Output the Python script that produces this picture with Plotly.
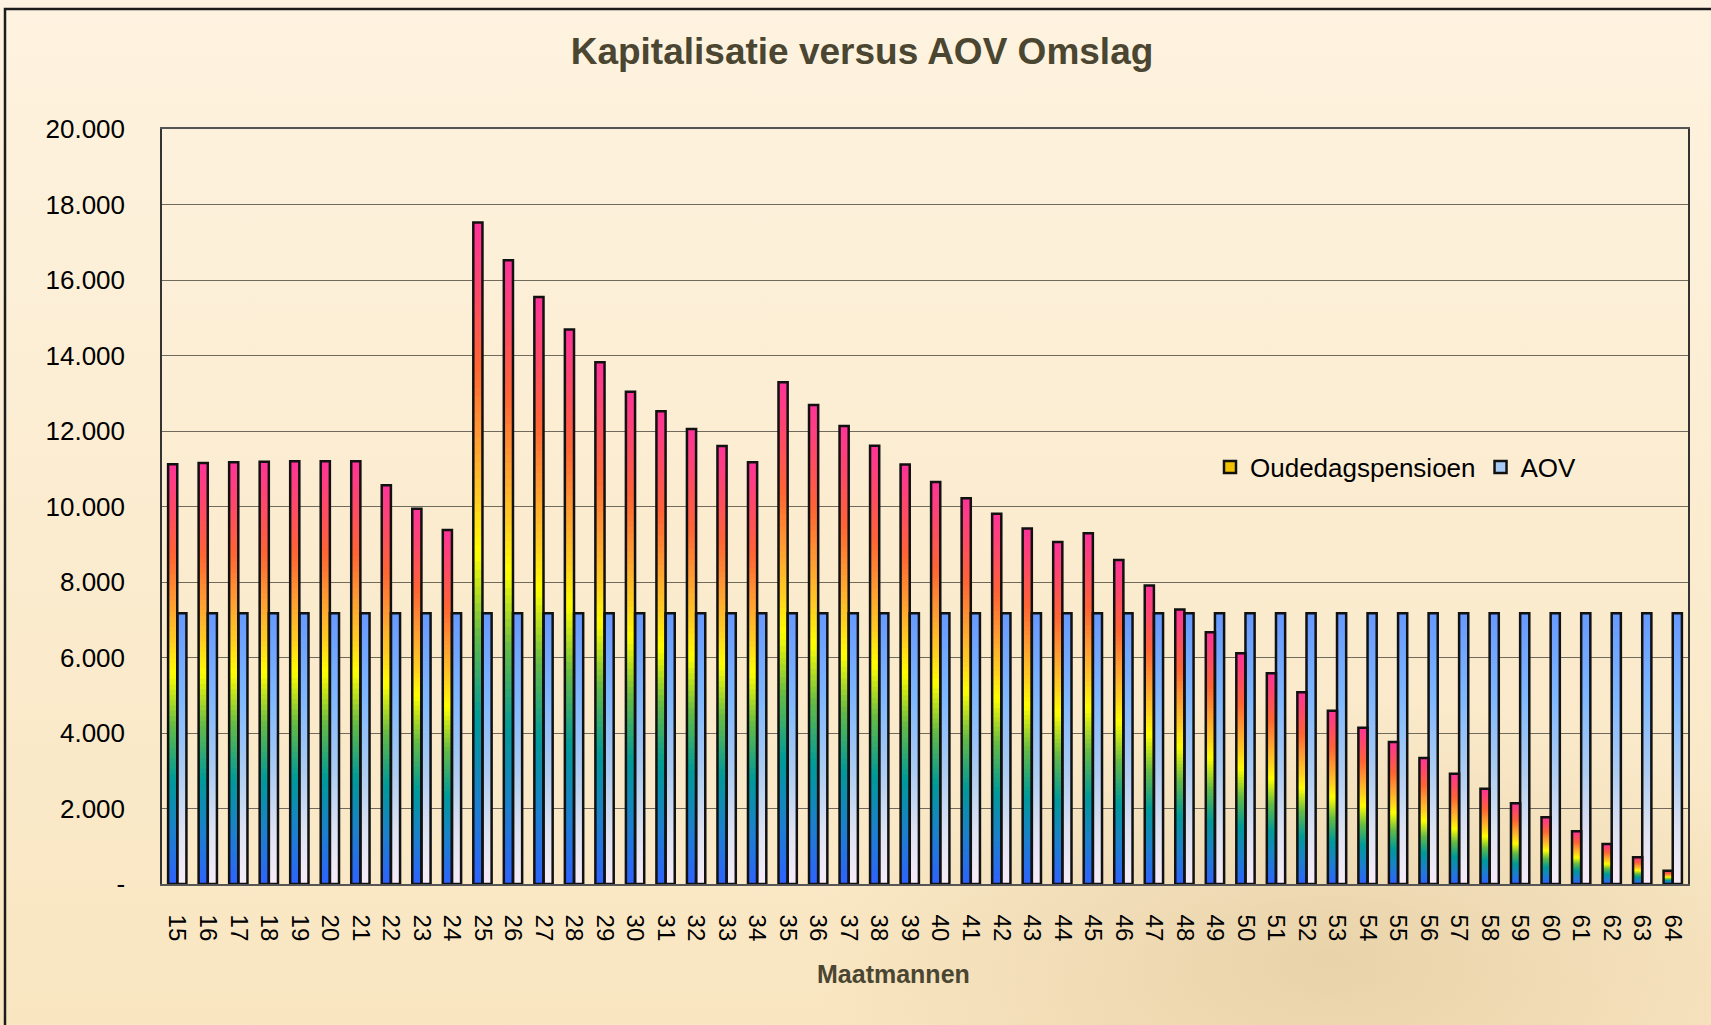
import base64
import plotly.graph_objects as go

# ---------------- data ----------------
ages = [15, 16, 17, 18, 19, 20, 21, 22, 23, 24,
        25, 26, 27, 28, 29, 30, 31, 32, 33, 34,
        35, 36, 37, 38, 39, 40, 41, 42, 43, 44,
        45, 46, 47, 48, 49, 50, 51, 52, 53, 54,
        55, 56, 57, 58, 59, 60, 61, 62, 63, 64]
age_labels = [str(a) for a in ages]

oudedagspensioen = [11120, 11150, 11175, 11185, 11200, 11200, 11200, 10565, 9940, 9375,
                    17520, 16520, 15550, 14690, 13820, 13040, 12520, 12050, 11600, 11170,
                    13290, 12690, 12130, 11610, 11110, 10650, 10220, 9810, 9420, 9060,
                    9290, 8580, 7910, 7270, 6670, 6110, 5580, 5080, 4590, 4140,
                    3760, 3340, 2920, 2520, 2140, 1770, 1400, 1060, 710, 350]

aov = [7170, 7170, 7170, 7170, 7170, 7170, 7170, 7170, 7170, 7170,
       7170, 7170, 7170, 7170, 7170, 7170, 7170, 7170, 7170, 7170,
       7170, 7170, 7170, 7170, 7170, 7170, 7170, 7170, 7170, 7170,
       7170, 7170, 7170, 7170, 7170, 7170, 7170, 7170, 7170, 7170,
       7170, 7170, 7170, 7170, 7170, 7170, 7170, 7170, 7170, 7170]

y_tickvals = [0, 2000, 4000, 6000, 8000, 10000, 12000, 14000, 16000, 18000, 20000]
y_ticktext = ["-", "2.000", "4.000", "6.000", "8.000", "10.000",
              "12.000", "14.000", "16.000", "18.000", "20.000"]

series_names = ["Oudedagspensioen", "AOV"]

# ---------------- style ----------------
W, H = 1711, 1025
M_L, M_R, M_T, M_B = 162, 23, 129, 141
PW = W - M_L - M_R
PH = H - M_T - M_B
FONT = "Liberation Sans, Arial, sans-serif"
DARK = "#4a4631"

# gradient stops (fraction of bar height from bottom -> colour)
rainbow_stops = [(0.00, "#2f62ff"), (0.12, "#1c7fcf"), (0.25, "#009a98"),
                 (0.38, "#66bb44"), (0.50, "#ffff00"), (0.58, "#ffcc22"),
                 (0.68, "#ff9933"), (0.78, "#ff6633"), (0.89, "#ff4a66"),
                 (1.00, "#ff3399")]
aov_stops = [(0.00, "#f8ecf8"), (0.20, "#dde2f2"), (0.43, "#aacbf2"),
             (0.68, "#80b8ff"), (1.00, "#6699ff")]


def hex2rgb(h):
    h = h.lstrip("#")
    return tuple(int(h[i:i + 2], 16) for i in (0, 2, 4))


def interp(stops, f):
    f = min(max(f, 0.0), 1.0)
    for (f0, c0), (f1, c1) in zip(stops[:-1], stops[1:]):
        if f0 <= f <= f1:
            t = 0 if f1 == f0 else (f - f0) / (f1 - f0)
            a, b = hex2rgb(c0), hex2rgb(c1)
            return "rgb(%d,%d,%d)" % tuple(round(a[i] + (b[i] - a[i]) * t) for i in range(3))
    return stops[-1][1]


N_SEG = 80
BAR_W = 0.3
series = [
    (oudedagspensioen, -BAR_W, rainbow_stops, "#f2c200"),
    (aov, 0.0, aov_stops, "#a8cbf6"),
]

fig = go.Figure()

for vals, off, stops, _ in series:
    # draw tallest (top colour) first; shorter ones overlay lower part -> gradient
    for k in range(N_SEG):
        frac = (N_SEG - k) / N_SEG
        fig.add_trace(go.Bar(
            x=ages, y=[v * frac for v in vals],
            width=BAR_W, offset=off,
            marker=dict(color=interp(stops, frac - 0.5 / N_SEG), line=dict(width=0)),
            showlegend=False, hoverinfo="skip",
        ))

for (vals, off, stops, lcol), name in zip(series, series_names):
    fig.add_trace(go.Bar(
        x=ages, y=vals, width=BAR_W, offset=off, name=name,
        marker=dict(color="rgba(0,0,0,0)", line=dict(color="#111111", width=2.5)),
        showlegend=False,
    ))

for (vals, off, stops, lcol), name in zip(series, series_names):
    fig.add_trace(go.Bar(
        x=[None], y=[None], name=name,
        marker=dict(color=lcol, line=dict(color="#111111", width=2.5)),
        showlegend=True,
    ))

# background image (gradient + faint sepia patch + outer frame)
svg = (
    f'<svg xmlns="http://www.w3.org/2000/svg" width="{W}" height="{H}">'
    '<defs><linearGradient id="g" x1="0" y1="0" x2="0" y2="1">'
    '<stop offset="0" stop-color="#fef3e0"/><stop offset="1" stop-color="#f9e6c1"/>'
    '</linearGradient>'
    '<radialGradient id="r" cx="0.5" cy="0.5" r="0.5">'
    '<stop offset="0" stop-color="#c9ad7a" stop-opacity="0.35"/>'
    '<stop offset="1" stop-color="#c9ad7a" stop-opacity="0"/></radialGradient></defs>'
    f'<rect width="{W}" height="{H}" fill="url(#g)"/>'
    '<ellipse cx="1330" cy="960" rx="520" ry="260" fill="url(#r)"/>'
    f'<rect x="5" y="9" width="{W + 20}" height="{H + 20}" fill="none" '
    'stroke="#1c1c1c" stroke-width="2.5"/></svg>'
)
src = "data:image/svg+xml;base64," + base64.b64encode(svg.encode()).decode()

fig.update_layout(
    width=W, height=H,
    margin=dict(l=M_L, r=M_R, t=M_T, b=M_B),
    paper_bgcolor="#fcefd6",
    plot_bgcolor="rgba(0,0,0,0)",
    barmode="overlay",
    font=dict(family=FONT, color="#000000"),
    images=[dict(source=src, xref="paper", yref="paper",
                 x=-M_L / PW, y=1 + M_T / PH, sizex=W / PW, sizey=H / PH,
                 xanchor="left", yanchor="top", sizing="stretch", layer="below")],
    title=dict(text="Kapitalisatie versus AOV Omslag",
               font=dict(family=FONT, size=37, color=DARK, weight="bold"),
               x=862 / W, xanchor="center", xref="container",
               y=1 - 51 / H, yanchor="middle", yref="container"),
    xaxis=dict(range=[14.5, 64.5], tickmode="array", tickvals=ages, ticktext=age_labels,
               tickangle=90, tickfont=dict(size=24, family=FONT),
               showgrid=False, zeroline=False, ticks="",
               showline=True, linecolor="#555555", linewidth=1.5, mirror=True,
               ticklabelstandoff=24),
    yaxis=dict(range=[0, 20000], tickmode="array", tickvals=y_tickvals, ticktext=y_ticktext,
               tickfont=dict(size=26, family=FONT),
               showgrid=True, gridcolor="#6f6a5c", gridwidth=1.3, zeroline=False,
               showline=True, linecolor="#333333", linewidth=1.5, mirror=True,
               ticks="", ticklabelstandoff=30),
    legend=dict(orientation="h", x=(1210 - M_L) / PW, xanchor="left",
                y=(884 - 467) / PH, yanchor="middle",
                bgcolor="rgba(0,0,0,0)", font=dict(size=26, family=FONT),
                traceorder="normal"),
    annotations=[dict(text="Maatmannen", xref="paper", yref="paper",
                      x=(893 - M_L) / PW, y=(884 - 974) / PH,
                      xanchor="center", yanchor="middle", showarrow=False,
                      font=dict(family=FONT, size=25, color=DARK, weight="bold"))],
)

fig.write_html("out.html", config={"displayModeBar": False},
               post_script="document.body.style.margin='0';")
